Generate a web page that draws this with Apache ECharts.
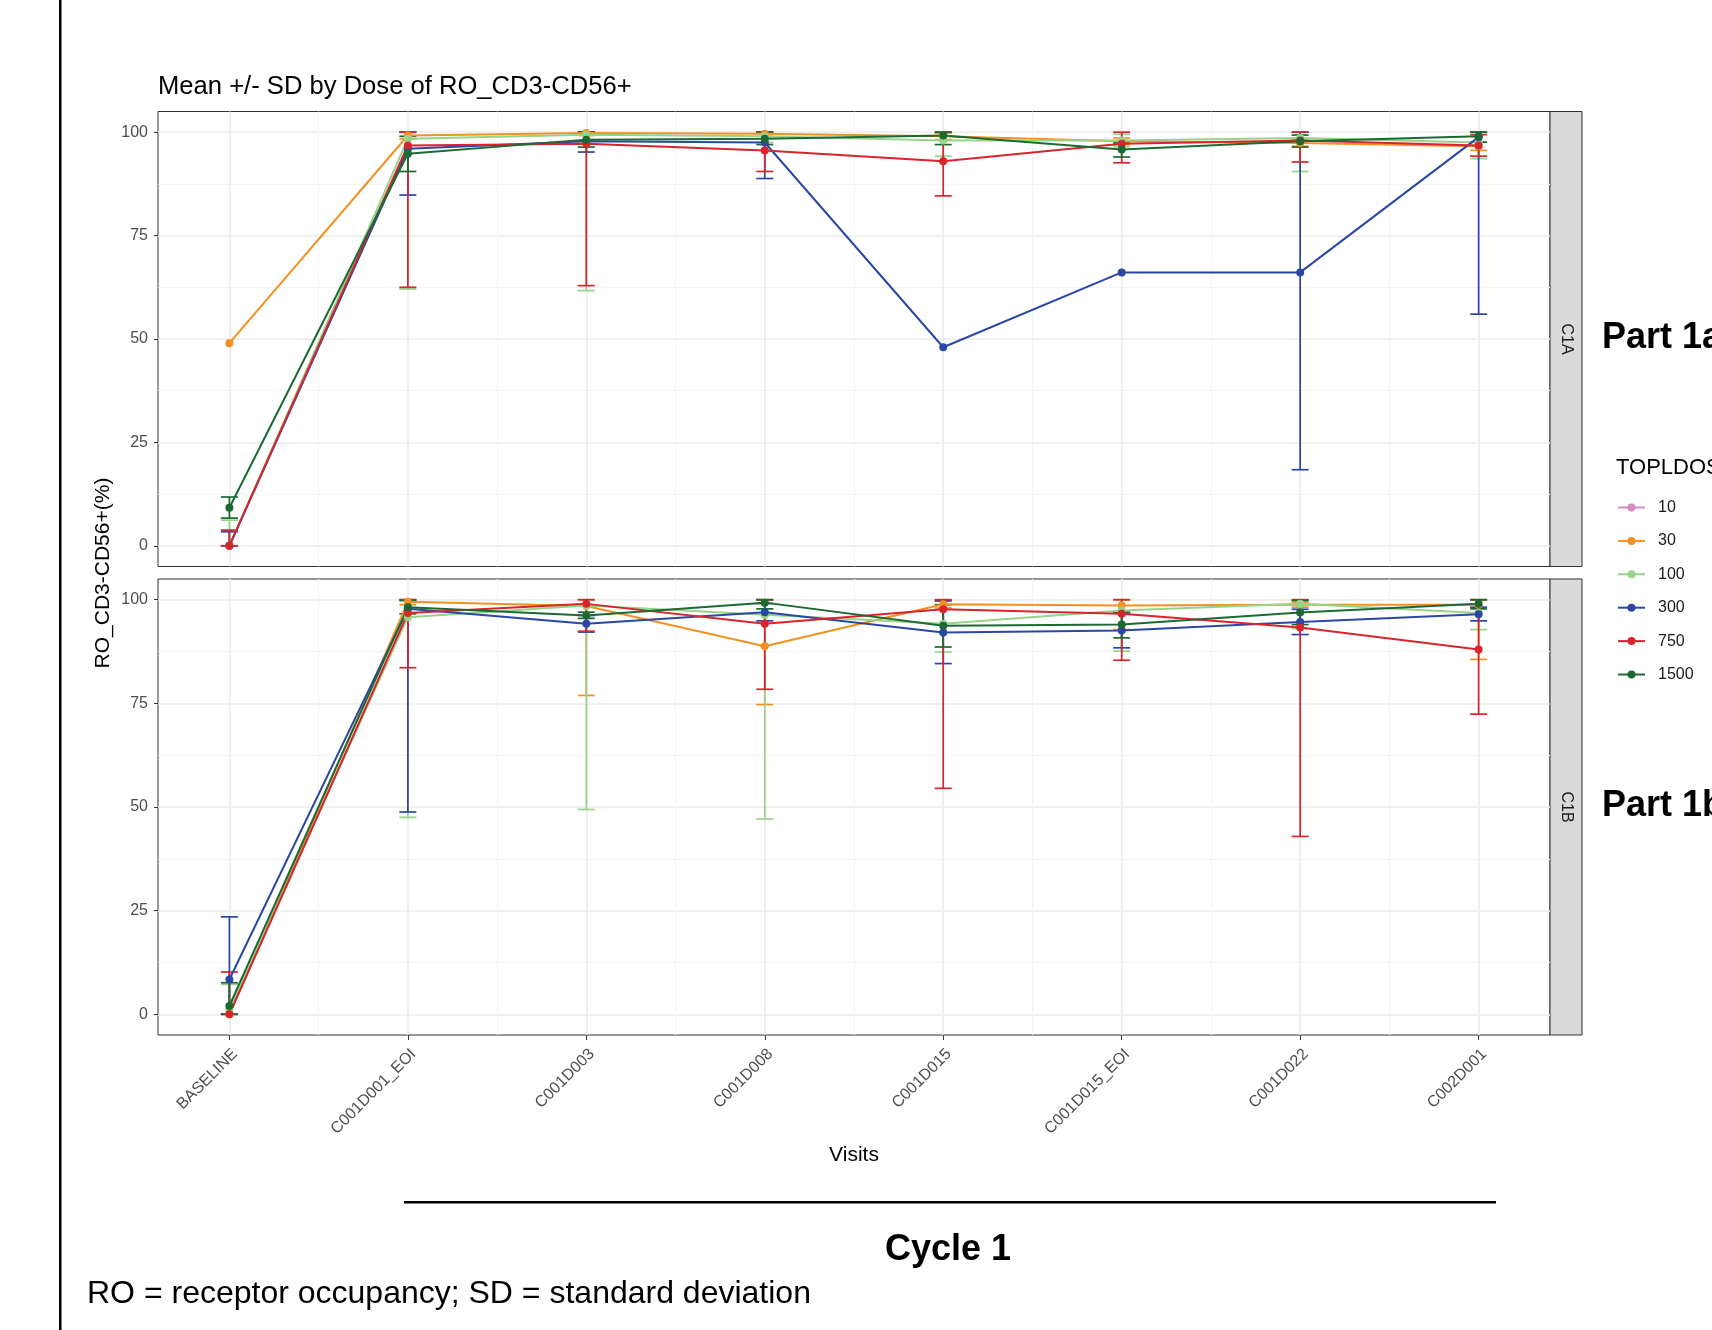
<!DOCTYPE html>
<html><head><meta charset="utf-8">
<script src="https://cdn.jsdelivr.net/npm/echarts@6/dist/echarts.min.js"></script>
<style>html,body{margin:0;padding:0;background:#fff}#c{width:1712px;height:1330px}</style>
</head><body><div id="c"></div>
<script>
// ---------- data ----------
const VISITS = ['BASELINE','C001D001_EOI','C001D003','C001D008','C001D015','C001D015_EOI','C001D022','C002D001'];
const X_POS = [0,1,2,3,4,5,6,7];
const X_MINOR = [0.5,1.5,2.5,3.5,4.5,5.5,6.5];
const Y_TICKS = [0,25,50,75,100];
const Y_MINOR = [12.5,37.5,62.5,87.5];
const DOSES = ['10','30','100','300','750','1500'];
const PANELS = ['C1A','C1B'];

// Part 1a (C1A): mean, lower (mean-SD), upper (mean+SD), truncated to 0..100
const C1A_MEAN_30   = [49.0, 99.2, 99.8, 99.6, 99.0, 97.8, 97.4, 96.6];
const C1A_LO_30     = [null, 98.4, 99.2, 99.0, 98.2, 97.0, 96.6, 95.6];
const C1A_HI_30     = [null, 100, 100, 100, 99.8, 98.6, 98.2, 97.6];
const C1A_MEAN_100  = [0, 98.4, 99.4, 99.0, 98.0, 98.0, 98.6, 97.5];
const C1A_LO_100    = [0, 62.1, 61.7, 97.5, 94.2, 96.5, 90.5, 93.6];
const C1A_HI_100    = [6.2, 100, 100, 100, 100, 99.5, 100, 100];
const C1A_MEAN_300  = [0, 96.0, 97.8, 97.5, 48.0, 66.1, 66.1, 98.8];
const C1A_LO_300    = [0, 84.8, 95.2, 88.8, null, null, 18.4, 56.0];
const C1A_HI_300    = [3.4, 100, 100, 100, null, null, 100, 100];
const C1A_MEAN_750  = [0, 96.8, 97.2, 95.6, 93.0, 97.2, 98.0, 96.8];
const C1A_LO_750    = [0, 62.5, 62.9, 90.5, 84.6, 92.6, 92.8, 94.2];
const C1A_HI_750    = [3.8, 100, 100, 100, 100, 100, 100, 99.4];
const C1A_MEAN_1500 = [9.2, 94.8, 98.2, 98.4, 99.2, 95.8, 97.8, 99.0];
const C1A_LO_1500   = [6.7, 90.5, 96.4, 97.0, 97.0, 94.0, 96.4, 97.6];
const C1A_HI_1500   = [11.8, 99.0, 100, 100, 100, 97.4, 99.3, 100];

// Part 1b (C1B)
const C1B_MEAN_30   = [0, 99.5, 98.5, 88.8, 98.9, 98.6, 98.8, 98.8];
const C1B_LO_30     = [null, 98.8, 76.9, 74.7, 98.0, 92.8, 98.2, 85.6];
const C1B_HI_30     = [null, 100, 100, 100, 99.8, 100, 99.4, 100];
const C1B_MEAN_100  = [1.0, 95.8, 98.6, 96.4, 94.2, 97.4, 99.0, 96.8];
const C1B_LO_100    = [0, 47.5, 49.4, 47.1, 87.4, 87.6, 93.0, 92.8];
const C1B_HI_100    = [7.2, 100, 100, 100, 100, 100, 100, 100];
const C1B_MEAN_300  = [8.4, 97.8, 94.2, 97.0, 92.1, 92.6, 94.6, 96.5];
const C1B_LO_300    = [0, 48.8, 92.2, 94.9, 84.6, 88.4, 91.6, 94.9];
const C1B_HI_300    = [23.5, 100, 96.2, 99.1, 99.7, 96.8, 97.7, 98.2];
const C1B_MEAN_750  = [0, 96.8, 99.0, 94.2, 97.7, 96.6, 93.3, 88.0];
const C1B_LO_750    = [0, 83.6, 92.4, 78.4, 54.5, 85.4, 42.9, 72.4];
const C1B_HI_750    = [10.2, 100, 100, 100, 100, 100, 100, 100];
const C1B_MEAN_1500 = [2.0, 98.2, 96.2, 99.3, 93.7, 94.0, 96.9, 99.0];
const C1B_LO_1500   = [0, 96.6, 95.5, 97.8, 88.6, 90.8, 94.0, 97.8];
const C1B_HI_1500   = [7.6, 99.8, 97.0, 100, 98.8, 97.0, 99.8, 100];

// ---------- styling ----------
const COLORS = {'10':'#D48BC6','30':'#F39021','100':'#98D38A','300':'#2A47A6','750':'#D8242B','1500':'#1C6A32'};
const FONT = 'Liberation Sans, Arial, Helvetica, sans-serif';

const DATA = {
  C1A: {
    '30':[C1A_MEAN_30,C1A_LO_30,C1A_HI_30], '100':[C1A_MEAN_100,C1A_LO_100,C1A_HI_100],
    '300':[C1A_MEAN_300,C1A_LO_300,C1A_HI_300], '750':[C1A_MEAN_750,C1A_LO_750,C1A_HI_750],
    '1500':[C1A_MEAN_1500,C1A_LO_1500,C1A_HI_1500]
  },
  C1B: {
    '30':[C1B_MEAN_30,C1B_LO_30,C1B_HI_30], '100':[C1B_MEAN_100,C1B_LO_100,C1B_HI_100],
    '300':[C1B_MEAN_300,C1B_LO_300,C1B_HI_300], '750':[C1B_MEAN_750,C1B_LO_750,C1B_HI_750],
    '1500':[C1B_MEAN_1500,C1B_LO_1500,C1B_HI_1500]
  }
};

const GRIDS = [
  {left:158, top:111.5, width:1392, height:455},
  {left:158, top:579, width:1392, height:456}
];

const xAxes = [], yAxes = [], series = [];
GRIDS.forEach((g, gi) => {
  const bottom = gi === 1;
  xAxes.push({
    type:'value', gridIndex:gi, min:-0.4, max:7.4, position:'bottom',
    axisLine:{show:false, onZero:false},
    axisTick:{show:bottom, customValues:X_POS, length:5, lineStyle:{color:'#333', width:1}},
    axisLabel:{show:bottom, customValues:X_POS, rotate:45, margin:11, verticalAlign:'top',
      fontSize:16, color:'#4d4d4d', fontFamily:FONT,
      formatter:v => VISITS[Math.round(v)]},
    splitLine:{show:true, lineStyle:{color:'#ebebeb', width:1.6}}
  });
  xAxes.push({
    type:'value', gridIndex:gi, min:-0.4, max:7.4, position:'bottom',
    axisLine:{show:false, onZero:false}, axisTick:{show:false, customValues:X_MINOR},
    axisLabel:{show:false, customValues:X_MINOR},
    splitLine:{show:true, lineStyle:{color:'#f4f4f4', width:1}}
  });
  yAxes.push({
    type:'value', gridIndex:gi, min:-5, max:105, position:'left',
    axisLine:{show:false, onZero:false},
    axisTick:{show:true, customValues:Y_TICKS, length:4, lineStyle:{color:'#333', width:1}},
    axisLabel:{customValues:Y_TICKS, margin:10, fontSize:16, color:'#4d4d4d', fontFamily:FONT},
    splitLine:{show:true, lineStyle:{color:'#ebebeb', width:1.6}}
  });
  yAxes.push({
    type:'value', gridIndex:gi, min:-5, max:105, position:'left',
    axisLine:{show:false, onZero:false}, axisTick:{show:false, customValues:Y_MINOR},
    axisLabel:{show:false, customValues:Y_MINOR},
    splitLine:{show:true, lineStyle:{color:'#f4f4f4', width:1}}
  });
});

function errRender(color){
  return function(params, api){
    const x = api.value(0), lo = api.value(1), hi = api.value(2);
    const p1 = api.coord([x, hi]), p2 = api.coord([x, lo]);
    const hw = 8.5;
    const st = {stroke:color, lineWidth:1.7};
    return {type:'group', children:[
      {type:'line', shape:{x1:p1[0], y1:p1[1], x2:p2[0], y2:p2[1]}, style:st},
      {type:'line', shape:{x1:p1[0]-hw, y1:p1[1], x2:p1[0]+hw, y2:p1[1]}, style:st},
      {type:'line', shape:{x1:p2[0]-hw, y1:p2[1], x2:p2[0]+hw, y2:p2[1]}, style:st}
    ]};
  };
}

PANELS.forEach((panel, gi) => {
  const xi = gi*2, yi = gi*2;
  // error bars first
  DOSES.forEach(d => {
    const arr = DATA[panel][d];
    if (!arr) return;
    const [mean, lo, hi] = arr;
    const ed = [];
    X_POS.forEach(i => { if (lo[i] != null && hi[i] != null) ed.push([i, lo[i], hi[i]]); });
    series.push({
      type:'custom', name:d+' SD '+panel, xAxisIndex:xi, yAxisIndex:yi,
      renderItem:errRender(COLORS[d]), encode:{x:0, y:[1,2]}, data:ed, silent:true, z:2
    });
  });
  // lines + points
  DOSES.forEach(d => {
    const arr = DATA[panel][d];
    const ld = arr ? X_POS.map(i => [i, arr[0][i]]) : [];
    series.push({
      type:'line', name:d, xAxisIndex:xi, yAxisIndex:yi, data:ld,
      symbol:'circle', symbolSize:8, showSymbol:true,
      lineStyle:{color:COLORS[d], width:2}, itemStyle:{color:COLORS[d]},
      emphasis:{disabled:true}, silent:true, z:3
    });
  });
});

const txt = (x, y, text, size, opts={}) => Object.assign({
  type:'text', x, y, silent:true,
  style:Object.assign({text, fontSize:size, fontFamily:FONT, fill:'#000',
    align:'left', verticalAlign:'middle'}, opts.style || {})
}, opts.el || {});

const graphic = [
  {type:'rect', shape:{x:59, y:0, width:2.5, height:1330}, style:{fill:'#000'}, silent:true},
  txt(158, 87, 'Mean +/- SD by Dose of RO_CD3-CD56+', 25.6),
  txt(103, 573, 'RO_CD3-CD56+(%)', 21, {style:{align:'center'}, el:{rotation:Math.PI/2}}),
  txt(854, 1155, 'Visits', 21, {style:{align:'center'}}),
  // strips
  {type:'rect', shape:{x:1550, y:111.5, width:32, height:455}, style:{fill:'#d9d9d9', stroke:'#333', lineWidth:1}, silent:true},
  {type:'rect', shape:{x:1550, y:579, width:32, height:456}, style:{fill:'#d9d9d9', stroke:'#333', lineWidth:1}, silent:true},
  txt(1566, 339, 'C1A', 16, {style:{align:'center', fill:'#1a1a1a'}, el:{rotation:-Math.PI/2}}),
  txt(1566, 807, 'C1B', 16, {style:{align:'center', fill:'#1a1a1a'}, el:{rotation:-Math.PI/2}}),
  txt(1602, 338, 'Part 1a', 36, {style:{fontWeight:'bold'}}),
  txt(1602, 806, 'Part 1b', 36, {style:{fontWeight:'bold'}}),
  txt(1616, 468, 'TOPLDOSE', 22),
  {type:'rect', shape:{x:404, y:1201, width:1092, height:2.5}, style:{fill:'#000'}, silent:true},
  txt(948, 1250, 'Cycle 1', 36, {style:{align:'center', fontWeight:'bold'}}),
  txt(87, 1294, 'RO = receptor occupancy; SD = standard deviation', 32)
];

const chart = echarts.init(document.getElementById('c'), null, {renderer:'canvas'});
chart.setOption({
  backgroundColor:'#fff',
  animation:false,
  textStyle:{fontFamily:FONT},
  grid:GRIDS.map(g => Object.assign({show:true, borderColor:'#333', borderWidth:1, backgroundColor:'#fff', containLabel:false, outerBoundsMode:'none'}, g)),
  xAxis:xAxes,
  yAxis:yAxes,
  legend:{
    data:DOSES, orient:'vertical', left:1617, top:499.5, padding:0,
    itemWidth:27, itemHeight:10, itemGap:17.4, selectedMode:false,
    textStyle:{fontSize:16, color:'#1a1a1a', fontFamily:FONT, padding:[0,0,0,8]}
  },
  series:series,
  graphic:graphic
});
</script></body></html>
